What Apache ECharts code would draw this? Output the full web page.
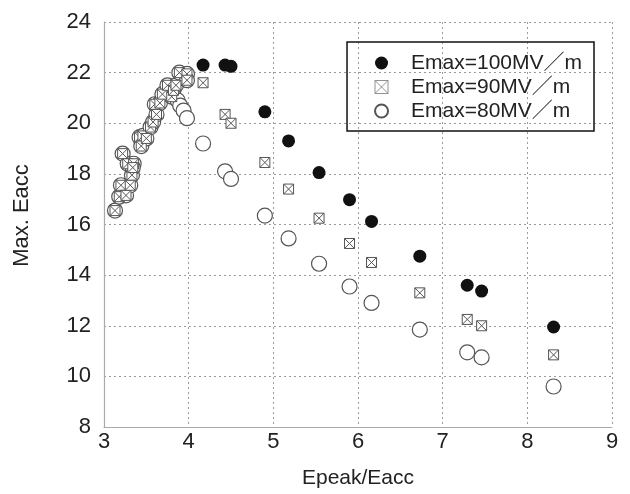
<!DOCTYPE html>
<html>
<head>
<meta charset="utf-8">
<script src="https://cdn.jsdelivr.net/npm/echarts@6/dist/echarts.min.js"></script>
<style>
  html, body { margin: 0; padding: 0; background: #fff; }
  #chart { width: 630px; height: 494px; }
</style>
</head>
<body>
<div id="chart"></div>
<script>
// Epeak/Eacc vs Max. Eacc for three Emax limits

// cluster below Epeak/Eacc = 4 (Emax 90 and 80 coincide)
const clusterX = [3.13, 3.18, 3.2, 3.22, 3.26, 3.31, 3.28, 3.35, 3.33, 3.34, 3.42, 3.46, 3.44, 3.5, 3.55, 3.58, 3.62, 3.6, 3.66, 3.69, 3.75, 3.8, 3.82, 3.85, 3.89, 3.98, 3.98]
const clusterY = [16.55, 17.1, 17.55, 18.8, 17.15, 17.55, 18.4, 18.4, 17.95, 18.25, 19.45, 19.5, 19.1, 19.4, 19.85, 20.05, 20.35, 20.75, 20.8, 21.15, 21.5, 21.05, 21.3, 21.5, 22.0, 21.95, 21.7]

// descending branch only for Emax=80
const branch80X = [3.87, 3.9, 3.94, 3.98]
const branch80Y = [20.9, 20.7, 20.5, 20.2]

const ratioX = [4.17, 4.43, 4.5, 4.9, 5.18, 5.54, 5.9, 6.16, 6.73, 7.29, 7.46, 8.31]
const eacc100 = [22.3, 22.3, 22.25, 20.45, 19.3, 18.05, 16.98, 16.12, 14.75, 13.6, 13.37, 11.95]
const eacc90 = [21.6, 20.35, 20.0, 18.45, 17.4, 16.25, 15.25, 14.5, 13.3, 12.25, 12.0, 10.85]
const eacc80 = [19.2, 18.1, 17.8, 16.35, 15.45, 14.45, 13.55, 12.9, 11.85, 10.95, 10.75, 9.6]

const xTicks = [3, 4, 5, 6, 7, 8, 9]
const yTicks = [8, 10, 12, 14, 16, 18, 20, 22, 24]

const pairs = (xs, ys) => xs.map((x, i) => [x, ys[i]])

const FONT = "'Liberation Sans', Arial, 'Noto Sans CJK JP', sans-serif"
const crossBox = 'path://M0,0L10,0L10,10L0,10Z M0,0L10,10 M10,0L0,10'

const chart = echarts.init(document.getElementById('chart'), null, { renderer: 'canvas' })

const gridLine = { show: true, lineStyle: { color: '#9a9a9a', type: [2, 3], width: 1 } }
const axisLine = { show: true, lineStyle: { color: '#aaa', width: 1.2 } }

chart.setOption({
  animation: false,
  backgroundColor: '#fff',
  textStyle: { fontFamily: FONT, color: '#222' },
  grid: { left: 104, right: 18, top: 22, bottom: 66 },
  legend: {
    orient: 'vertical',
    right: 36,
    top: 42,
    padding: [9, 12, 8, 27],
    borderColor: '#111',
    borderWidth: 1.5,
    itemGap: 0,
    itemWidth: 13,
    itemHeight: 13,
    textStyle: { fontSize: 21, lineHeight: 24, color: '#222', fontFamily: FONT, padding: [0, 0, 0, 18] },
    data: [
      'Emax=100MV／m',
      { name: 'Emax=90MV／m', itemStyle: { borderWidth: 0.8, borderColor: '#777' } },
      'Emax=80MV／m'
    ]
  },
  xAxis: {
    type: 'value',
    min: 3, max: 9, interval: 1,
    name: 'Epeak/Eacc',
    nameLocation: 'middle',
    nameGap: 41,
    nameTextStyle: { fontSize: 21, color: '#222' },
    axisLine: axisLine,
    axisTick: { show: false },
    axisLabel: {
      fontSize: 22, color: '#222', margin: 4,
      formatter: v => xTicks.includes(v) ? String(v) : ''
    },
    splitLine: gridLine
  },
  yAxis: {
    type: 'value',
    min: 8, max: 24, interval: 2,
    name: 'Max. Eacc',
    nameLocation: 'middle',
    nameGap: 71,
    nameTextStyle: { fontSize: 22, color: '#222', padding: [0, 0, 0, 18] },
    axisLine: axisLine,
    axisTick: { show: false },
    axisLabel: {
      fontSize: 22, color: '#222', margin: 13, padding: [0, 0, 8, 0],
      formatter: v => yTicks.includes(v) ? String(v) : ''
    },
    splitLine: gridLine
  },
  series: [
    {
      name: 'Emax=100MV／m',
      type: 'scatter',
      symbol: 'circle',
      symbolSize: 13,
      z: 4,
      itemStyle: { color: '#111', opacity: 1 },
      data: pairs(ratioX, eacc100)
    },
    {
      name: 'Emax=80MV／m',
      type: 'scatter',
      symbol: 'circle',
      symbolSize: 15,
      z: 2,
      itemStyle: { color: '#fff', borderColor: '#555', borderWidth: 1.2, opacity: 1 },
      data: pairs(clusterX, clusterY).concat(pairs(branch80X, branch80Y), pairs(ratioX, eacc80))
    },
    {
      name: 'Emax=90MV／m',
      type: 'scatter',
      symbol: crossBox,
      symbolSize: 10,
      z: 3,
      itemStyle: { color: '#fff', borderColor: '#555', borderWidth: 1, opacity: 1 },
      data: pairs(clusterX, clusterY).concat(pairs(ratioX, eacc90))
    }
  ]
})
</script>
</body>
</html>
